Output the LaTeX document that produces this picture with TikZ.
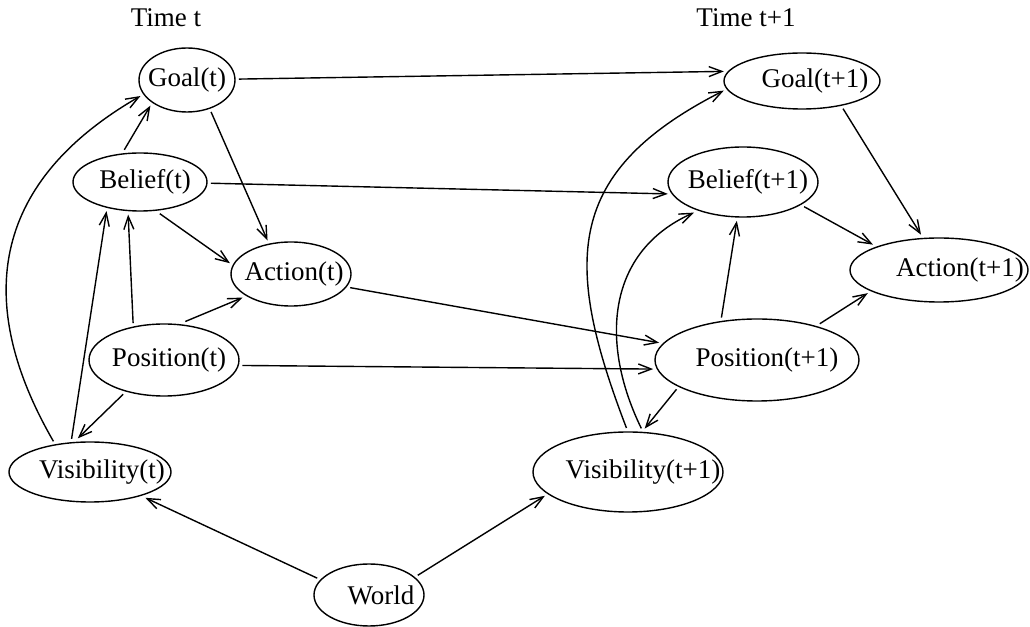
\documentclass[tikz,border=0pt]{standalone}
\usepackage{fontspec}
\setmainfont{Liberation Serif}
\usepackage{tikz}
\usetikzlibrary{arrows.meta,shapes.geometric}

% text box of no width, shifted to the right inside its ellipse
\newcommand{\lbl}[2]{\makebox[0pt]{\hspace*{#1}#2}}

\begin{document}
\begin{tikzpicture}[x=0.5pt,y=0.5pt,
	font=\fontsize{13.5}{16}\selectfont,
	state/.style={draw,ellipse,line width=0.7pt,inner sep=0pt,outer sep=2pt},
	arr/.style={->,line width=0.7pt,>={Straight Barb[length=6.5pt,width=5pt]}}]
			\useasboundingbox (0,0) rectangle (1030,627);
			
			\node (timea) at (166,609) {Time t};
			\node (timeb) at (746,609) {Time t+1};
			
			% time t
			\node[state,minimum width=48pt,minimum height=32pt] (goal1) at (187,547) {\lbl{0pt}{Goal(t)}};
			\node[state,minimum width=67pt,minimum height=29pt] (belief1) at (140,445) {\lbl{5pt}{Belief(t)}};
			\node[state,minimum width=60pt,minimum height=32pt] (action1) at (291,353) {\lbl{3pt}{Action(t)}};
			\node[state,minimum width=75pt,minimum height=36pt] (pos1) at (164,267) {\lbl{5pt}{Position(t)}};
			\node[state,minimum width=81pt,minimum height=30pt] (vis1) at (90,155) {\lbl{12pt}{Visibility(t)}};
			\node[state,minimum width=55pt,minimum height=31pt] (world) at (369,32) {\lbl{12pt}{World}};
			
			% time t+1
			\node[state,minimum width=78pt,minimum height=28pt] (goal2) at (802,546) {\lbl{13pt}{Goal(t+1)}};
			\node[state,minimum width=75pt,minimum height=35pt] (belief2) at (743,445) {\lbl{5pt}{Belief(t+1)}};
			\node[state,minimum width=89pt,minimum height=32pt] (action2) at (939,357) {\lbl{21pt}{Action(t+1)}};
			\node[state,minimum width=102pt,minimum height=41pt] (pos2) at (757,267) {\lbl{10pt}{Position(t+1)}};
			\node[state,minimum width=95pt,minimum height=40pt] (vis2) at (628,155) {\lbl{15pt}{Visibility(t+1)}};
			
			\foreach \a/\b in {goal1.1/goal2.173, belief1.359/belief2.189,
				goal1.307/action1.125, belief1.116/goal1.215, belief1.302/action1.170,
				pos1.130/belief1.250, vis1.119/belief1.221, pos1.61/action1.206,
				pos1.220/vis1.110, pos1.356/pos2.185, action1.347/pos2.170,
				world.162/vis1.335, world.22/vis2.196,
				goal2.326/action2.117, belief2.338/action2.159, pos2.130/belief2.261,
				pos2.30/action2.198, pos2.200/vis2.69}
			\draw[arr] (\a)--(\b);
			
			\draw[arr] (vis1.140) to[out=120,in=210,looseness=1.2] (goal1.199);
			\draw[arr] (vis2.92) to[out=111,in=207,looseness=1.3] (goal2.187);
			\draw[arr] (vis2.73) to[out=116,in=204,looseness=1.1] (belief2.212);
			\end{tikzpicture}
\end{document}
